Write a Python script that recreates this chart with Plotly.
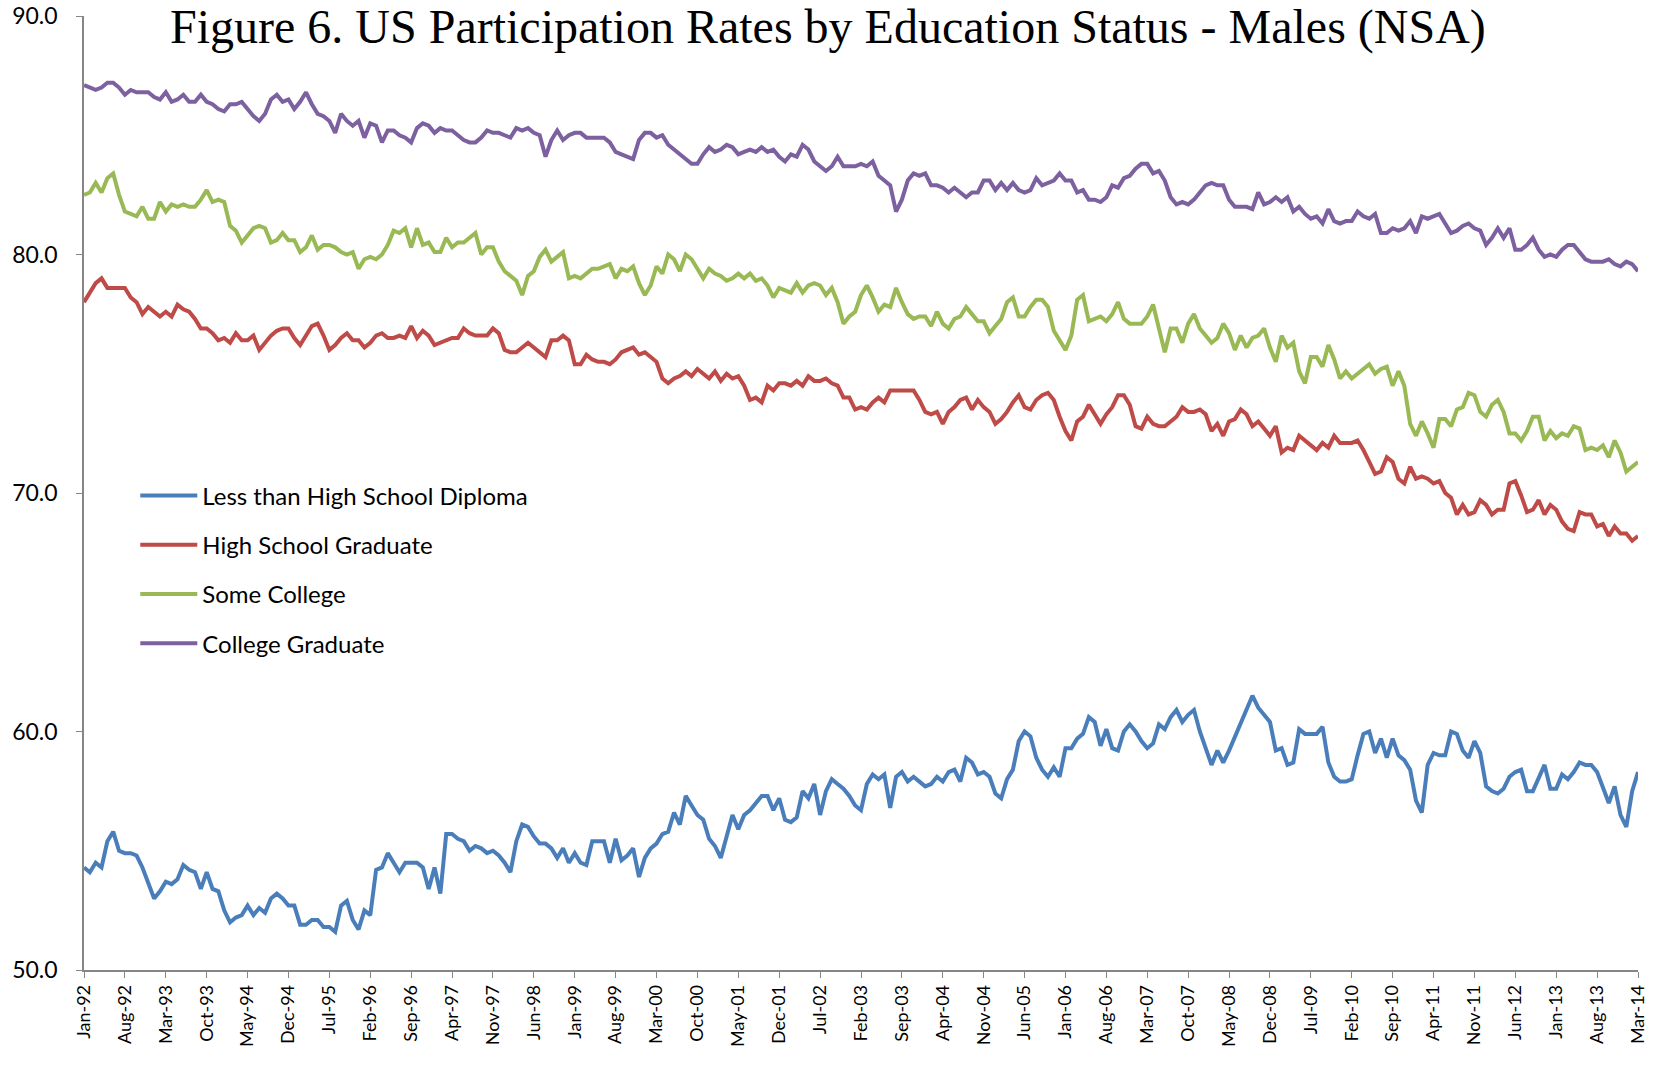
import pandas as pd
import plotly.graph_objects as go

months = [d.strftime("%b-%y") for d in pd.date_range("1992-01-01", "2014-03-01", freq="MS")]
tick_labels = months[::7]

less_than_hs = [
    54.3, 54.1, 54.5, 54.3, 55.4, 55.8, 55.0, 54.9, 54.9, 54.8, 54.3, 53.6,
    53.0, 53.3, 53.7, 53.6, 53.8, 54.4, 54.2, 54.1, 53.4, 54.1, 53.4, 53.3,
    52.5, 52.0, 52.2, 52.3, 52.7, 52.3, 52.6, 52.4, 53.0, 53.2, 53.0, 52.7,
    52.7, 51.9, 51.9, 52.1, 52.1, 51.8, 51.8, 51.6, 52.7, 52.9, 52.1, 51.7,
    52.5, 52.3, 54.2, 54.3, 54.9, 54.5, 54.1, 54.5, 54.5, 54.5, 54.3, 53.4,
    54.3, 53.2, 55.7, 55.7, 55.5, 55.4, 55.0, 55.2, 55.1, 54.9, 55.0, 54.8,
    54.5, 54.1, 55.4, 56.1, 56.0, 55.6, 55.3, 55.3, 55.1, 54.7, 55.1, 54.5,
    54.9, 54.5, 54.4, 55.4, 55.4, 55.4, 54.5, 55.5, 54.6, 54.8, 55.1, 53.9,
    54.7, 55.1, 55.3, 55.7, 55.8, 56.6, 56.1, 57.3, 56.9, 56.5, 56.3, 55.5,
    55.2, 54.7, 55.6, 56.5, 55.9, 56.5, 56.7, 57.0, 57.3, 57.3, 56.7, 57.2,
    56.3, 56.2, 56.4, 57.5, 57.2, 57.8, 56.5, 57.5, 58.0, 57.8, 57.6, 57.3,
    56.9, 56.7, 57.8, 58.2, 58.0, 58.2, 56.8, 58.1, 58.3, 57.9, 58.1, 57.9,
    57.7, 57.8, 58.1, 57.9, 58.3, 58.4, 57.9, 58.9, 58.7, 58.2, 58.3, 58.1,
    57.4, 57.2, 58.0, 58.4, 59.6, 60.0, 59.8, 58.9, 58.4, 58.1, 58.5, 58.1,
    59.3, 59.3, 59.7, 59.9, 60.6, 60.4, 59.4, 60.1, 59.3, 59.2, 60.0, 60.3,
    60.0, 59.6, 59.3, 59.5, 60.3, 60.1, 60.6, 60.9, 60.4, 60.7, 60.9, 60.0,
    59.3, 58.6, 59.2, 58.7, 59.2, 59.8, 60.3, 61.0, 61.5, 61.0, 60.7, 60.4,
    59.2, 59.3, 58.6, 58.7, 60.1, 59.9, 59.9, 59.9, 60.2, 58.7, 58.1, 57.9,
    57.9, 58.0, 59.0, 59.9, 60.0, 59.1, 59.7, 58.9, 59.7, 59.0, 58.8, 58.4,
    57.1, 56.6, 58.6, 59.1, 59.0, 59.0, 60.0, 59.9, 59.2, 58.9, 59.6, 59.1,
    57.7, 57.5, 57.4, 57.6, 58.1, 58.3, 58.4, 57.5, 57.5, 58.1, 58.6, 57.6,
    57.6, 58.2, 58.0, 58.3, 58.7, 58.6, 58.6, 58.3, 57.6, 57.0, 57.7, 56.5,
    56.0, 57.5, 58.3,
]

hs_graduate = [
    78.0, 78.4, 78.8, 79.0, 78.6, 78.6, 78.6, 78.6, 78.2, 78.0, 77.5, 77.8,
    77.6, 77.4, 77.6, 77.4, 77.9, 77.7, 77.6, 77.3, 76.9, 76.9, 76.7, 76.4,
    76.5, 76.3, 76.7, 76.4, 76.4, 76.6, 76.0, 76.3, 76.6, 76.8, 76.9, 76.9,
    76.5, 76.2, 76.6, 77.0, 77.1, 76.6, 76.0, 76.2, 76.5, 76.7, 76.4, 76.4,
    76.1, 76.3, 76.6, 76.7, 76.5, 76.5, 76.6, 76.5, 77.0, 76.5, 76.8, 76.6,
    76.2, 76.3, 76.4, 76.5, 76.5, 76.9, 76.7, 76.6, 76.6, 76.6, 76.9, 76.7,
    76.0, 75.9, 75.9, 76.1, 76.3, 76.1, 75.9, 75.7, 76.4, 76.4, 76.6, 76.4,
    75.4, 75.4, 75.8, 75.6, 75.5, 75.5, 75.4, 75.6, 75.9, 76.0, 76.1, 75.8,
    75.9, 75.7, 75.5, 74.8, 74.6, 74.8, 74.9, 75.1, 74.9, 75.2, 75.0, 74.8,
    75.1, 74.7, 75.0, 74.8, 74.9, 74.5, 73.9, 74.0, 73.8, 74.5, 74.3, 74.6,
    74.6, 74.5, 74.7, 74.5, 74.9, 74.7, 74.7, 74.8, 74.6, 74.5, 74.0, 74.0,
    73.5, 73.6, 73.5, 73.8, 74.0, 73.8, 74.3, 74.3, 74.3, 74.3, 74.3, 73.9,
    73.4, 73.3, 73.4, 72.9, 73.4, 73.6, 73.9, 74.0, 73.5, 73.9, 73.6, 73.4,
    72.9, 73.1, 73.4, 73.8, 74.1, 73.6, 73.5, 73.9, 74.1, 74.2, 73.9, 73.2,
    72.6, 72.2, 73.0, 73.2, 73.7, 73.3, 72.9, 73.3, 73.6, 74.1, 74.1, 73.7,
    72.8, 72.7, 73.2, 72.9, 72.8, 72.8, 73.0, 73.2, 73.6, 73.4, 73.4, 73.5,
    73.3, 72.6, 72.9, 72.4, 73.0, 73.1, 73.5, 73.3, 72.8, 73.0, 72.7, 72.4,
    72.8, 71.7, 71.9, 71.8, 72.4, 72.2, 72.0, 71.8, 72.1, 71.9, 72.4, 72.1,
    72.1, 72.1, 72.2, 71.8, 71.3, 70.8, 70.9, 71.5, 71.3, 70.6, 70.4, 71.1,
    70.6, 70.7, 70.6, 70.4, 70.5, 70.0, 69.8, 69.1, 69.5, 69.1, 69.2, 69.7,
    69.5, 69.1, 69.3, 69.3, 70.4, 70.5, 69.9, 69.2, 69.3, 69.7, 69.1, 69.5,
    69.3, 68.8, 68.5, 68.4, 69.2, 69.1, 69.1, 68.6, 68.7, 68.2, 68.6, 68.3,
    68.3, 68.0, 68.2,
]

some_college = [
    82.5, 82.6, 83.0, 82.6, 83.2, 83.4, 82.5, 81.8, 81.7, 81.6, 82.0, 81.5,
    81.5, 82.2, 81.8, 82.1, 82.0, 82.1, 82.0, 82.0, 82.3, 82.7, 82.2, 82.3,
    82.2, 81.2, 81.0, 80.5, 80.8, 81.1, 81.2, 81.1, 80.5, 80.6, 80.9, 80.6,
    80.6, 80.1, 80.3, 80.8, 80.2, 80.4, 80.4, 80.3, 80.1, 80.0, 80.1, 79.4,
    79.8, 79.9, 79.8, 80.0, 80.4, 81.0, 80.9, 81.1, 80.3, 81.1, 80.4, 80.5,
    80.1, 80.1, 80.7, 80.3, 80.5, 80.5, 80.7, 80.9, 80.0, 80.3, 80.3, 79.7,
    79.3, 79.1, 78.9, 78.3, 79.1, 79.3, 79.9, 80.2, 79.7, 79.9, 80.1, 79.0,
    79.1, 79.0, 79.2, 79.4, 79.4, 79.5, 79.6, 79.0, 79.4, 79.3, 79.5, 78.8,
    78.3, 78.7, 79.5, 79.2, 80.0, 79.8, 79.3, 80.0, 79.8, 79.4, 79.0, 79.4,
    79.2, 79.1, 78.9, 79.0, 79.2, 79.0, 79.2, 78.9, 79.0, 78.7, 78.2, 78.6,
    78.5, 78.4, 78.8, 78.4, 78.7, 78.8, 78.7, 78.3, 78.6, 78.0, 77.1, 77.4,
    77.6, 78.3, 78.7, 78.2, 77.6, 77.9, 77.8, 78.6, 78.0, 77.5, 77.3, 77.4,
    77.4, 77.0, 77.6, 77.1, 76.9, 77.3, 77.4, 77.8, 77.5, 77.2, 77.2, 76.7,
    77.0, 77.3, 78.0, 78.2, 77.4, 77.4, 77.8, 78.1, 78.1, 77.8, 76.8, 76.4,
    76.0, 76.6, 78.1, 78.3, 77.2, 77.3, 77.4, 77.2, 77.5, 78.0, 77.3, 77.1,
    77.1, 77.1, 77.4, 77.9, 76.9, 75.9, 76.9, 76.9, 76.3, 77.1, 77.5, 76.9,
    76.6, 76.3, 76.5, 77.1, 76.7, 76.0, 76.6, 76.1, 76.5, 76.6, 76.9, 76.1,
    75.5, 76.6, 76.1, 76.3, 75.1, 74.6, 75.7, 75.7, 75.3, 76.2, 75.6, 74.8,
    75.1, 74.8, 75.0, 75.2, 75.4, 75.0, 75.2, 75.3, 74.5, 75.1, 74.5, 72.9,
    72.4, 73.0, 72.5, 71.9, 73.1, 73.1, 72.8, 73.5, 73.6, 74.2, 74.1, 73.4,
    73.2, 73.7, 73.9, 73.4, 72.5, 72.5, 72.2, 72.6, 73.2, 73.2, 72.2, 72.6,
    72.3, 72.5, 72.4, 72.8, 72.7, 71.8, 71.9, 71.8, 72.0, 71.5, 72.2, 71.7,
    70.9, 71.1, 71.3,
]

college_graduate = [
    87.1, 87.0, 86.9, 87.0, 87.2, 87.2, 87.0, 86.7, 86.9, 86.8, 86.8, 86.8,
    86.6, 86.5, 86.8, 86.4, 86.5, 86.7, 86.4, 86.4, 86.7, 86.4, 86.3, 86.1,
    86.0, 86.3, 86.3, 86.4, 86.1, 85.8, 85.6, 85.9, 86.5, 86.7, 86.4, 86.5,
    86.1, 86.4, 86.8, 86.3, 85.9, 85.8, 85.6, 85.1, 85.9, 85.6, 85.4, 85.6,
    84.9, 85.5, 85.4, 84.7, 85.2, 85.2, 85.0, 84.9, 84.7, 85.3, 85.5, 85.4,
    85.1, 85.3, 85.2, 85.2, 85.0, 84.8, 84.7, 84.7, 84.9, 85.2, 85.1, 85.1,
    85.0, 84.9, 85.3, 85.2, 85.3, 85.1, 85.0, 84.1, 84.8, 85.2, 84.8, 85.0,
    85.1, 85.1, 84.9, 84.9, 84.9, 84.9, 84.7, 84.3, 84.2, 84.1, 84.0, 84.8,
    85.1, 85.1, 84.9, 85.0, 84.6, 84.4, 84.2, 84.0, 83.8, 83.8, 84.2, 84.5,
    84.3, 84.4, 84.6, 84.5, 84.2, 84.3, 84.4, 84.3, 84.5, 84.3, 84.4, 84.1,
    83.9, 84.2, 84.1, 84.6, 84.4, 83.9, 83.7, 83.5, 83.7, 84.1, 83.7, 83.7,
    83.7, 83.8, 83.7, 83.9, 83.3, 83.1, 82.9, 81.8, 82.3, 83.1, 83.4, 83.3,
    83.4, 82.9, 82.9, 82.8, 82.6, 82.8, 82.6, 82.4, 82.6, 82.6, 83.1, 83.1,
    82.7, 83.0, 82.7, 83.0, 82.7, 82.6, 82.7, 83.2, 82.9, 83.0, 83.1, 83.4,
    83.1, 83.1, 82.6, 82.7, 82.3, 82.3, 82.2, 82.4, 82.9, 82.8, 83.2, 83.3,
    83.6, 83.8, 83.8, 83.4, 83.5, 83.1, 82.4, 82.1, 82.2, 82.1, 82.3, 82.6,
    82.9, 83.0, 82.9, 82.9, 82.3, 82.0, 82.0, 82.0, 81.9, 82.6, 82.1, 82.2,
    82.4, 82.2, 82.4, 81.8, 82.0, 81.7, 81.5, 81.6, 81.3, 81.9, 81.4, 81.3,
    81.4, 81.4, 81.8, 81.6, 81.5, 81.7, 80.9, 80.9, 81.1, 81.0, 81.1, 81.4,
    80.9, 81.6, 81.5, 81.6, 81.7, 81.3, 80.9, 81.0, 81.2, 81.3, 81.1, 81.0,
    80.4, 80.7, 81.1, 80.7, 81.1, 80.2, 80.2, 80.4, 80.7, 80.2, 79.9, 80.0,
    79.9, 80.2, 80.4, 80.4, 80.1, 79.8, 79.7, 79.7, 79.7, 79.8, 79.6, 79.5,
    79.7, 79.6, 79.3,
]

series = [
    ("Less than High School Diploma", less_than_hs, "#4A7EBB"),
    ("High School Graduate", hs_graduate, "#BE4B48"),
    ("Some College", some_college, "#98B954"),
    ("College Graduate", college_graduate, "#7D60A0"),
]

fig = go.Figure()
for name, vals, color in series:
    fig.add_trace(go.Scatter(
        x=months, y=vals, name=name, mode="lines",
        line=dict(color=color, width=4),
        legendgroup=name,
    ))

axis_color = "#868686"
fig.update_layout(
    width=1665, height=1074,
    margin=dict(l=84, r=27, t=16, b=104),
    paper_bgcolor="white", plot_bgcolor="white",
    font=dict(family="Lato, Carlito, Arial", color="black"),
    showlegend=True,
    legend=dict(
        x=0.033, y=0.5205, xanchor="left", yanchor="top",
        font=dict(size=24, family="Lato"),
        traceorder="grouped", tracegroupgap=15,
        bgcolor="rgba(0,0,0,0)", itemwidth=57,
    ),
    xaxis=dict(
        type="category", range=[0, len(months) - 1],
        tickmode="array", tickvals=tick_labels, ticktext=tick_labels,
        tickangle=-90, tickfont=dict(size=18),
        showline=True, linecolor=axis_color, linewidth=1.5,
        ticks="outside", ticklen=6, tickcolor=axis_color,
        showgrid=False, zeroline=False, automargin=False,
    ),
    yaxis=dict(
        range=[50, 90], tickvals=[50, 60, 70, 80, 90],
        tickformat=".1f", tickfont=dict(size=23),
        showline=True, linecolor=axis_color, linewidth=1.5,
        ticks="outside", ticklen=6, tickcolor=axis_color,
        ticklabelstandoff=14,
        showgrid=False, zeroline=False, automargin=False,
    ),
    annotations=[dict(
        text="Figure 6. US Participation Rates by Education Status - Males (NSA)",
        xref="paper", yref="paper", x=0.479, y=1.0, xanchor="center", yanchor="middle",
        yshift=-11, showarrow=False,
        font=dict(family="Liberation Serif, Times New Roman, serif", size=48, color="black"),
    )],
)

fig.write_html("out.html")
